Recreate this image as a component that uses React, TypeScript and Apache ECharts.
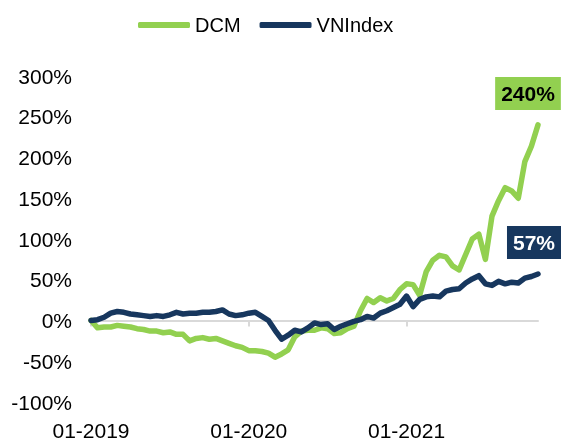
import React, { useEffect, useRef } from "react";
import * as echarts from "echarts";

const categories: string[] = [
  "2019-01-01", "2019-01-16", "2019-02-01", "2019-02-16", "2019-03-01", "2019-03-16",
  "2019-04-01", "2019-04-16", "2019-05-01", "2019-05-16", "2019-06-01", "2019-06-16",
  "2019-07-01", "2019-07-16", "2019-08-01", "2019-08-16", "2019-09-01", "2019-09-16",
  "2019-10-01", "2019-10-16", "2019-11-01", "2019-11-16", "2019-12-01", "2019-12-16",
  "2020-01-01", "2020-01-16", "2020-02-01", "2020-02-16", "2020-03-01", "2020-03-16",
  "2020-04-01", "2020-04-16", "2020-05-01", "2020-05-16", "2020-06-01", "2020-06-16",
  "2020-07-01", "2020-07-16", "2020-08-01", "2020-08-16", "2020-09-01", "2020-09-16",
  "2020-10-01", "2020-10-16", "2020-11-01", "2020-11-16", "2020-12-01", "2020-12-16",
  "2021-01-01", "2021-01-16", "2021-02-01", "2021-02-16", "2021-03-01", "2021-03-16",
  "2021-04-01", "2021-04-16", "2021-05-01", "2021-05-16", "2021-06-01", "2021-06-16",
  "2021-07-01", "2021-07-16", "2021-08-01", "2021-08-16", "2021-09-01", "2021-09-16",
  "2021-10-01", "2021-10-16", "2021-11-01",
];

const dcm: number[] = [
  0, -9, -8, -8, -6, -7, -8, -10, -11, -13, -13, -15, -14, -17, -17, -25, -22, -21,
  -23, -22, -25, -28, -31, -33, -37, -37, -38, -40, -45, -41, -36, -20, -13, -12,
  -12, -9, -10, -16, -15, -10, -7, 12, 27, 22, 28, 24, 27, 38, 45, 44, 31, 60,
  74, 80, 78, 67, 62, 81, 100, 106, 75, 128, 147, 163, 159, 150, 195, 214, 240,
];

const vnindex: number[] = [
  0, 1, 4, 9, 11, 10, 8, 7, 6, 5, 6, 5, 7, 10, 8, 9, 9, 10,
  10, 11, 13, 8, 6, 7, 9, 10, 5, 0, -12, -23, -18, -12, -14, -9,
  -3, -5, -4, -11, -7, -4, -1, 1, 5, 3, 9, 12, 16, 20, 30, 17, 26, 29,
  30, 29, 36, 38, 39, 46, 51, 55, 45, 43, 48, 45, 47, 46, 52, 54, 57,
];

const yTicks = { min: -100, max: 300, interval: 50 };

const GREEN = "#92D050";
const NAVY = "#17375E";
const FONT = "Liberation Sans, Arial, sans-serif";

const isYearStart = (_i: number, v: string) => v.endsWith("-01-01");

function endMark(values: number[], bg: string, fg: string, offset: number[]) {
  const last = values.length - 1;
  return {
    symbol: "circle",
    symbolSize: 2,
    itemStyle: { color: bg },
    silent: true,
    data: [{ coord: [categories[last], values[last]], value: values[last] }],
    label: {
      show: true,
      position: "top",
      distance: 14,
      offset,
      formatter: "{c}%",
      fontSize: 21,
      fontWeight: "bold",
      color: fg,
      backgroundColor: bg,
      padding: [6, 6, 6, 6],
      fontFamily: FONT,
    },
  };
}

export default function App() {
  const ref = useRef<HTMLDivElement>(null);
  useEffect(() => {
    if (!ref.current) return;
    const chart = echarts.init(ref.current, undefined, { renderer: "svg" });
    chart.setOption({
      animation: false,
      textStyle: { fontFamily: FONT },
      legend: {
        left: 133,
        top: 10,
        icon: "roundRect",
        itemWidth: 52,
        itemHeight: 6,
        itemGap: 19,
        textStyle: { fontSize: 20, color: "#000", fontFamily: FONT },
        data: ["DCM", "VNIndex"],
      },
      grid: { left: 91, right: 23, top: 76, bottom: 37, containLabel: false },
      xAxis: [
        {
          type: "category",
          data: categories,
          boundaryGap: false,
          position: "bottom",
          axisLine: { show: false, onZero: false },
          axisTick: { show: false },
          splitLine: { show: false },
          axisLabel: {
            interval: isYearStart,
            formatter: (v: string) => v.slice(5, 7) + "-" + v.slice(0, 4),
            fontSize: 21,
            color: "#000",
            margin: 18,
            fontFamily: FONT,
          },
        },
        {
          type: "category",
          data: categories,
          boundaryGap: false,
          position: "top",
          axisLine: { show: true, onZero: true, lineStyle: { color: "#D9D9D9", width: 2 } },
          axisTick: {
            show: true,
            inside: true,
            interval: isYearStart,
            length: 6,
            lineStyle: { color: "#D9D9D9", width: 2 },
          },
          axisLabel: { show: false },
          splitLine: { show: false },
        },
      ],
      yAxis: {
        type: "value",
        min: yTicks.min,
        max: yTicks.max,
        interval: yTicks.interval,
        axisLine: { show: false },
        axisTick: { show: false },
        splitLine: { show: false },
        axisLabel: {
          formatter: "{value}%",
          fontSize: 21,
          color: "#000",
          margin: 19,
          fontFamily: FONT,
        },
      },
      series: [
        {
          name: "DCM",
          type: "line",
          xAxisIndex: 0,
          symbol: "none",
          showSymbol: false,
          color: GREEN,
          lineStyle: { color: GREEN, width: 5.5, cap: "round", join: "round" },
          z: 3,
          data: dcm,
          markPoint: endMark(dcm, GREEN, "#000", [-10, 0]),
        },
        {
          name: "VNIndex",
          type: "line",
          xAxisIndex: 0,
          symbol: "none",
          showSymbol: false,
          color: NAVY,
          lineStyle: { color: NAVY, width: 5.5, cap: "round", join: "round" },
          z: 4,
          data: vnindex,
          markPoint: endMark(vnindex, NAVY, "#fff", [-4, 0]),
        },
      ],
    });
    return () => chart.dispose();
  }, []);
  return (
    <div
      ref={ref}
      style={{ position: "fixed", left: 0, top: 0, width: 561, height: 441 }}
    />
  );
}
